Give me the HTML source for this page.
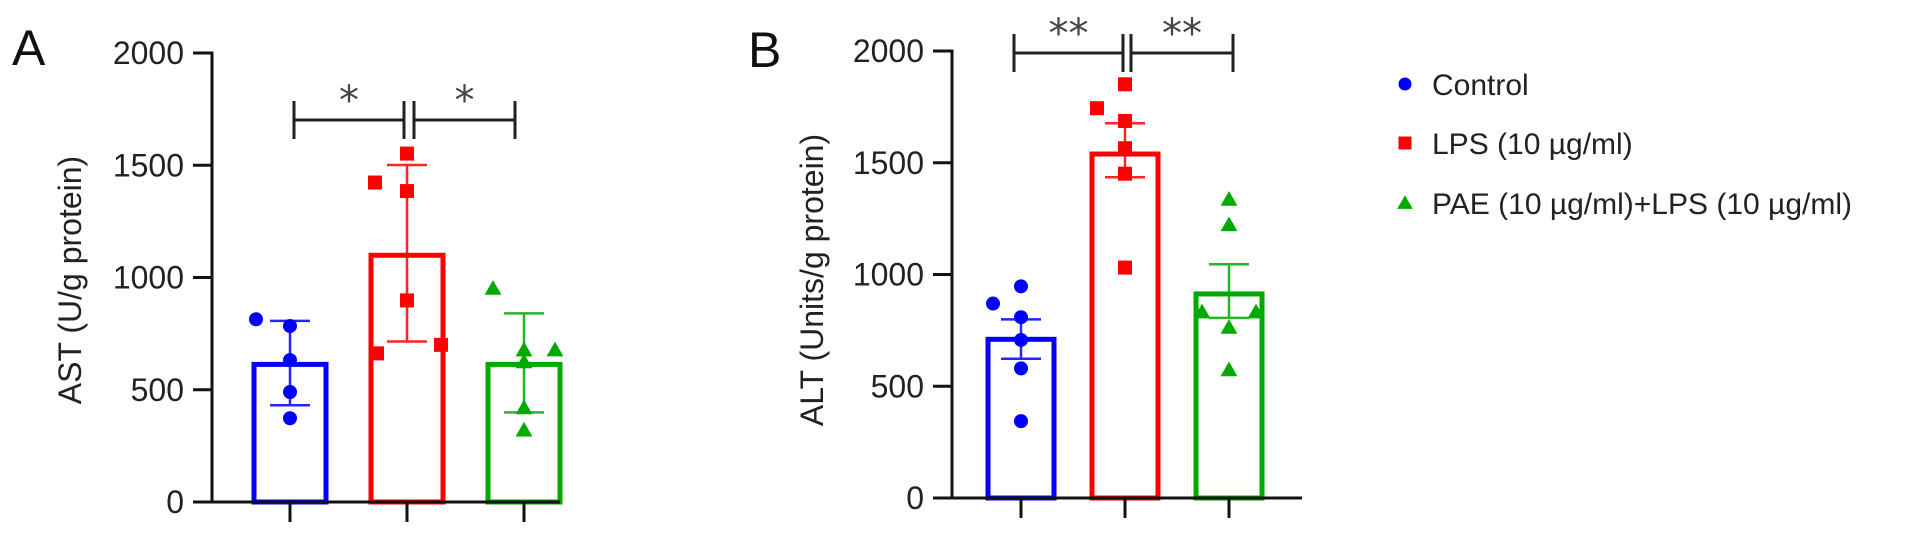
<!DOCTYPE html>
<html><head><meta charset="utf-8"><style>
html,body{margin:0;padding:0;background:#fff;}
svg{display:block;font-family:"Liberation Sans",Arial,sans-serif;}
</style></head><body>
<svg id="chart" width="1913" height="535" viewBox="0 0 1913 535" xmlns="http://www.w3.org/2000/svg">
<g id="root"></g>
</svg>
<script>
const groups = ["Control", "LPS (10 µg/ml)", "PAE (10 µg/ml)+LPS (10 µg/ml)"];
const yTicks = [0, 500, 1000, 1500, 2000];
const astMeans = [613, 1099, 613];
const astErrHigh = [807, 1501, 840];
const astErrLow = [431, 715, 399];
const astControl = [814, 784, 632, 490, 373];
const astLps = [1423, 1552, 1385, 898, 662, 700];
const astPae = [951, 677, 624, 677, 419, 320];
const altMeans = [710, 1539, 913];
const altErrHigh = [799, 1677, 1046];
const altErrLow = [623, 1435, 806];
const altControl = [870, 947, 809, 707, 580, 344];
const altLps = [1851, 1744, 1687, 1565, 1451, 1031];
const altPae = [1336, 1222, 832, 832, 763, 573];
const sigA = ["*", "*"];
const sigB = ["**", "**"];

// layout / jitter (not data)
const jitA = [[-34,0,0,0,0],[-32,0,0,0,-30,34],[-31,0,0,31,0,0]];
const jitB = [[-28,0,0,0,0,0],[0,-28,0,0,0,0],[0,0,-27,27,0,0]];
const colors = ["#0000ff","#ff0000","#00aa00"];
const NS = "http://www.w3.org/2000/svg";
const root = document.getElementById('root');
function mk(tag, attrs, parent){const e=document.createElementNS(NS,tag);for(const k in attrs)e.setAttribute(k,attrs[k]);(parent||root).appendChild(e);return e;}

function marker(g, kind, cx, cy, color, s){
  let e;
  if(kind===0){e=mk('circle',{cx:cx,cy:cy,r:s/2,fill:color},g);}
  else if(kind===1){e=mk('rect',{x:cx-s/2,y:cy-s/2,width:s,height:s,fill:color},g);}
  else {e=mk('polygon',{points:`${cx},${cy-s*0.6} ${cx-s*0.6},${cy+s*0.45} ${cx+s*0.6},${cy+s*0.45}`,fill:color},g);}
  return e;
}

function panel(cfg){
  const g = mk('g',{});
  
  
  const y = v => cfg.y0 - (v/2000)*(cfg.y0-cfg.y2000);
  const x = i => cfg.x0 + i*cfg.step;
  cfg.means.forEach((m,i)=>{
    const r = mk('rect',{x:x(i)-cfg.bw/2,y:y(m),width:cfg.bw,height:y(0)-y(m),fill:'none',stroke:colors[i],'stroke-width':5},g);
    
    
  });
  cfg.points.forEach((arr,i)=>{
    arr.forEach((v,j)=>{
      const p = marker(g, i, x(i)+cfg.jit[i][j], y(v), colors[i], 14);
      
      
    });
  });
  cfg.means.forEach((m,i)=>{
    const eg = mk('g',{stroke:colors[i],'stroke-width':2.5,opacity:0.85},g);
    
    
    mk('line',{x1:x(i),x2:x(i),y1:y(cfg.hi[i]),y2:y(cfg.lo[i])},eg);
    mk('line',{x1:x(i)-20,x2:x(i)+20,y1:y(cfg.hi[i]),y2:y(cfg.hi[i])},eg);
    mk('line',{x1:x(i)-20,x2:x(i)+20,y1:y(cfg.lo[i]),y2:y(cfg.lo[i])},eg);
  });
  const ax = mk('g',{stroke:'#111','stroke-width':3,fill:'none'},g);
  
  
  mk('line',{x1:cfg.ax,x2:cfg.ax,y1:y(2000)-1.5,y2:y(0)},ax);
  mk('line',{x1:cfg.ax-19,x2:cfg.xend,y1:y(0),y2:y(0)},ax);
  yTicks.forEach(t=>{
    mk('line',{x1:cfg.ax-19,x2:cfg.ax,y1:y(t),y2:y(t)},ax);
    const tl = mk('text',{x:cfg.ax-28,y:y(t)+11,'text-anchor':'end','font-size':32,fill:'#222'},g);
    
    
    tl.textContent = t;
  });
  groups.forEach((gname,i)=>{
    mk('line',{x1:x(i),x2:x(i),y1:y(0),y2:y(0)+20},ax);
  });
  const yt = mk('text',{x:0,y:0,transform:`translate(${cfg.titleX},${cfg.titleY}) rotate(-90)`,'text-anchor':'middle','font-size':32,fill:'#222'},g);
  
  
  yt.textContent = cfg.title;
  const pl = mk('text',{x:cfg.letterX,y:cfg.letterY,'font-size':50,fill:'#111'},g);
  
  
  pl.textContent = cfg.letter;
  cfg.brackets.forEach((b,k)=>{
    const bg = mk('g',{stroke:'#222','stroke-width':3},g);
    
    
    mk('line',{x1:b[0],x2:b[1],y1:cfg.by,y2:cfg.by},bg);
    mk('line',{x1:b[0],x2:b[0],y1:cfg.by-19,y2:cfg.by+19},bg);
    mk('line',{x1:b[1],x2:b[1],y1:cfg.by-19,y2:cfg.by+19},bg);
    const st = mk('text',{x:(b[0]+b[1])/2,y:cfg.by-6,'text-anchor':'middle','font-size':40,fill:'#444','font-family':'"DejaVu Sans",sans-serif'},g);
    
    
    st.textContent = cfg.sig[k];
  });
}

panel({name:'panel-a-ast',letter:'A',letterX:12,letterY:65,x0:290,step:117,bw:72,ax:212,xend:560,y0:502,y2000:53,
  means:astMeans,hi:astErrHigh,lo:astErrLow,points:[astControl,astLps,astPae],jit:jitA,
  title:'AST (U/g protein)',titleX:81,titleY:280,by:120,brackets:[[294,404],[414,515]],sig:sigA});
panel({name:'panel-b-alt',letter:'B',letterX:748,letterY:67,x0:1021,step:104,bw:66,ax:952,xend:1302,y0:498,y2000:51,
  means:altMeans,hi:altErrHigh,lo:altErrLow,points:[altControl,altLps,altPae],jit:jitB,
  title:'ALT (Units/g protein)',titleX:823,titleY:280,by:53,brackets:[[1014,1123],[1131,1233]],sig:sigB});

const lg = mk('g',{});


const legY = [84, 143, 203];
groups.forEach((gname,i)=>{
  const m = marker(lg, i, 1405, legY[i], colors[i], 13);
  
  
  const t = mk('text',{x:1432,y:legY[i]+11,'font-size':30,fill:'#222'},lg);
  
  
  t.textContent = gname;
});
</script>
</body></html>
